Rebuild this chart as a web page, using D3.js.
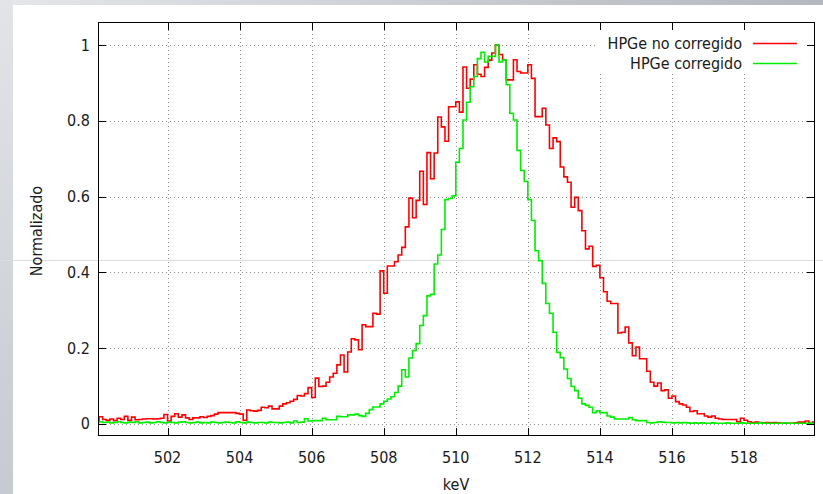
<!DOCTYPE html>
<html><head><meta charset="utf-8">
<script src="https://cdn.jsdelivr.net/npm/d3@7"></script>
<style>
html,body{margin:0;padding:0;background:#fff;}
svg{display:block;}
text{font-family:"DejaVu Sans Condensed","DejaVu Sans",sans-serif;font-stretch:condensed;fill:#1a1a1a;}
</style>
</head><body>
<svg id="chart" width="823" height="494"></svg>
<script>
// ---- data ----
const binStart = 500.0;
const binWidth = 0.1;
const seriesNames = ["HPGe no corregido", "HPGe corregido"];
const seriesColors = ["#ff0000", "#00ee00"];
const xTicks = [502, 504, 506, 508, 510, 512, 514, 516, 518];
const yTicks = [0, 0.2, 0.4, 0.6, 0.8, 1];
const yTickLabels = ["0", "0.2", "0.4", "0.6", "0.8", "1"];
const xLabel = "keV";
const yLabel = "Normalizado";

const redVals = [
  0.008,0.019,0.012,0.010,0.013,0.009,0.015,0.012,0.020,0.010,
  0.018,0.011,0.012,0.013,0.014,0.014,0.013,0.014,0.015,0.025,
  0.008,0.020,0.027,0.018,0.024,0.016,0.012,0.016,0.016,0.019,
  0.017,0.020,0.022,0.026,0.030,0.030,0.030,0.030,0.030,0.028,
  0.026,0.010,0.037,0.035,0.034,0.036,0.044,0.043,0.047,0.040,
  0.040,0.047,0.053,0.056,0.060,0.065,0.075,0.074,0.080,0.096,
  0.070,0.121,0.099,0.100,0.110,0.124,0.134,0.156,0.182,0.137,
  0.190,0.225,0.222,0.196,0.262,0.257,0.257,0.292,0.290,0.404,
  0.345,0.417,0.417,0.428,0.446,0.466,0.520,0.596,0.544,0.590,
  0.667,0.579,0.716,0.647,0.715,0.810,0.784,0.746,0.837,0.837,
  0.850,0.823,0.942,0.886,0.910,0.948,0.923,0.917,0.941,0.960,
  0.979,1.000,0.975,0.960,0.908,0.908,0.961,0.930,0.926,0.926,
  0.948,0.912,0.811,0.811,0.833,0.789,0.727,0.755,0.745,0.678,
  0.652,0.638,0.572,0.598,0.563,0.510,0.462,0.469,0.416,0.419,
  0.386,0.349,0.324,0.318,0.318,0.240,0.242,0.256,0.214,0.180,
  0.203,0.172,0.172,0.139,0.110,0.100,0.108,0.088,0.090,0.068,
  0.074,0.059,0.053,0.050,0.044,0.033,0.035,0.027,0.027,0.021,
  0.018,0.021,0.015,0.013,0.012,0.012,0.012,0.012,0.006,0.015,
  0.010,0.006,0.004,0.005,0.004,0.003,0.004,0.003,0.004,0.003,
  0.002,0.002,0.002,0.002,0.003,0.005,0.005,0.008,0.002,0.005
];

const greenVals = [
  0.004,0.006,0.004,0.005,0.003,0.004,0.006,0.004,0.003,0.005,
  0.004,0.006,0.003,0.004,0.005,0.003,0.004,0.006,0.004,0.003,
  0.005,0.004,0.003,0.005,0.006,0.004,0.003,0.004,0.005,0.003,
  0.004,0.003,0.005,0.004,0.003,0.004,0.005,0.004,0.003,0.006,
  0.004,0.003,0.005,0.004,0.003,0.004,0.004,0.003,0.005,0.004,
  0.004,0.003,0.004,0.005,0.003,0.008,0.004,0.005,0.014,0.008,
  0.009,0.009,0.009,0.015,0.011,0.011,0.011,0.020,0.019,0.019,
  0.024,0.024,0.026,0.022,0.020,0.028,0.038,0.045,0.045,0.053,
  0.060,0.066,0.072,0.083,0.100,0.143,0.124,0.174,0.194,0.212,
  0.260,0.286,0.338,0.342,0.422,0.446,0.513,0.592,0.595,0.602,
  0.691,0.727,0.802,0.849,0.890,0.917,0.964,0.981,0.955,0.970,
  0.970,1.000,0.955,0.960,0.895,0.820,0.802,0.722,0.669,0.640,
  0.592,0.537,0.457,0.431,0.371,0.318,0.292,0.242,0.189,0.175,
  0.145,0.120,0.099,0.088,0.068,0.053,0.049,0.044,0.030,0.035,
  0.030,0.030,0.021,0.018,0.013,0.013,0.013,0.013,0.017,0.011,
  0.009,0.009,0.009,0.004,0.003,0.004,0.006,0.005,0.004,0.004,
  0.003,0.004,0.003,0.004,0.003,0.002,0.003,0.002,0.003,0.002,
  0.002,0.003,0.002,0.002,0.002,0.003,0.002,0.002,0.002,0.003,
  0.002,0.002,0.002,0.002,0.003,0.002,0.002,0.002,0.002,0.002,
  0.002,0.003,0.002,0.002,0.002,0.002,0.002,0.002,0.002,0.002
];

// ---- layout ----
const W = 823, H = 494;
const plot = {left: 98, right: 815, top: 22, bottom: 436};
const fs = 16;

const svg = d3.select("#chart");
const defs = svg.append("defs");

const gTop = defs.append("linearGradient").attr("id", "gTop").attr("x1", 0).attr("x2", 1).attr("y1", 0).attr("y2", 0);
gTop.append("stop").attr("offset", 0).attr("stop-color", "#e4e6e9");
gTop.append("stop").attr("offset", 1).attr("stop-color", "#b3b8bf");
const gLeft = defs.append("linearGradient").attr("id", "gLeft").attr("x1", 0).attr("x2", 0).attr("y1", 0).attr("y2", 1);
gLeft.append("stop").attr("offset", 0).attr("stop-color", "#e2e4e8");
gLeft.append("stop").attr("offset", 1).attr("stop-color", "#c6cad1");

svg.append("rect").attr("x", 0).attr("y", 0).attr("width", W).attr("height", H).attr("fill", "#ffffff");
svg.append("rect").attr("x", 0).attr("y", 0).attr("width", W).attr("height", 5).attr("fill", "url(#gTop)");
svg.append("rect").attr("x", 0).attr("y", 0).attr("width", 13).attr("height", H).attr("fill", "url(#gLeft)");

defs.append("clipPath").attr("id", "clip").append("rect")
  .attr("x", plot.left).attr("y", plot.top)
  .attr("width", plot.right - plot.left).attr("height", plot.bottom - plot.top);

const x = d3.scaleLinear().domain([500.07, 519.97]).range([plot.left, plot.right]);
const y = d3.scaleLinear().domain([-0.0317, 1.0607]).range([plot.bottom, plot.top]);

// grid
const grid = svg.append("g").attr("stroke", "#8e8e8e").attr("stroke-width", 1).attr("stroke-dasharray", "1,3");
grid.selectAll("line.gx").data(xTicks).join("line")
  .attr("x1", d => Math.round(x(d)) + 0.5).attr("x2", d => Math.round(x(d)) + 0.5)
  .attr("y1", plot.top).attr("y2", plot.bottom);
grid.selectAll("line.gy").data(yTicks).join("line")
  .attr("y1", d => Math.round(y(d)) + 0.5).attr("y2", d => Math.round(y(d)) + 0.5)
  .attr("x1", plot.left).attr("x2", plot.right);

// key box (opaque)
svg.append("rect").attr("x", 596).attr("y", 23).attr("width", 218).attr("height", 50).attr("fill", "#ffffff");

// faint slide line
svg.append("line").attr("x1", 0).attr("x2", W).attr("y1", 260.5).attr("y2", 260.5)
  .attr("stroke", "#dcdcdc").attr("stroke-width", 1);

// data
function stepPoints(vals) {
  const pts = vals.map((v, i) => [binStart + i * binWidth, v]);
  pts.push([binStart + vals.length * binWidth, vals[vals.length - 1]]);
  return pts;
}
const line = d3.line().x(d => x(d[0])).y(d => y(d[1])).curve(d3.curveStepAfter);
const dataG = svg.append("g").attr("clip-path", "url(#clip)");
[redVals, greenVals].forEach((vals, i) => {
  dataG.append("path").datum(stepPoints(vals))
    .attr("d", line).attr("fill", "none")
    .attr("stroke", seriesColors[i]).attr("stroke-width", 1.6)
    .attr("stroke-linejoin", "miter");
});

// frame
svg.append("rect").attr("x", plot.left + 0.5).attr("y", plot.top + 0.5)
  .attr("width", plot.right - plot.left - 1).attr("height", plot.bottom - plot.top - 1)
  .attr("fill", "none").attr("stroke", "#000").attr("stroke-width", 1);

// ticks (inward, mirrored)
const ticks = svg.append("g").attr("stroke", "#000").attr("stroke-width", 1);
const tl = 8;
xTicks.forEach(t => {
  const xx = Math.round(x(t)) + 0.5;
  ticks.append("line").attr("x1", xx).attr("x2", xx).attr("y1", plot.bottom).attr("y2", plot.bottom - tl);
  ticks.append("line").attr("x1", xx).attr("x2", xx).attr("y1", plot.top).attr("y2", plot.top + tl);
});
yTicks.forEach(t => {
  const yy = Math.round(y(t)) + 0.5;
  ticks.append("line").attr("y1", yy).attr("y2", yy).attr("x1", plot.left).attr("x2", plot.left + tl);
  ticks.append("line").attr("y1", yy).attr("y2", yy).attr("x1", plot.right).attr("x2", plot.right - tl);
});

// tick labels
svg.append("g").selectAll("text").data(xTicks).join("text")
  .attr("x", d => x(d)).attr("y", 463).attr("text-anchor", "middle")
  .attr("font-size", fs).text(d => d);
svg.append("g").selectAll("text").data(yTicks).join("text")
  .attr("x", 90).attr("y", d => y(d) + 5.5).attr("text-anchor", "end")
  .attr("font-size", fs).text((d, i) => yTickLabels[i]);

// axis titles
svg.append("text").attr("x", 456).attr("y", 490).attr("text-anchor", "middle")
  .attr("font-size", fs).text(xLabel);
svg.append("text").attr("transform", "translate(42,231) rotate(-90)")
  .attr("text-anchor", "middle").attr("font-size", fs).text(yLabel);

// legend
seriesNames.forEach((name, i) => {
  const yy = 43 + i * 20;
  svg.append("text").attr("x", 742).attr("y", yy + 5.5).attr("text-anchor", "end")
    .attr("font-size", fs).text(name);
  svg.append("line").attr("x1", 753).attr("x2", 797).attr("y1", yy + 0.5).attr("y2", yy + 0.5)
    .attr("stroke", seriesColors[i]).attr("stroke-width", 1.6);
});
</script>
</body></html>
